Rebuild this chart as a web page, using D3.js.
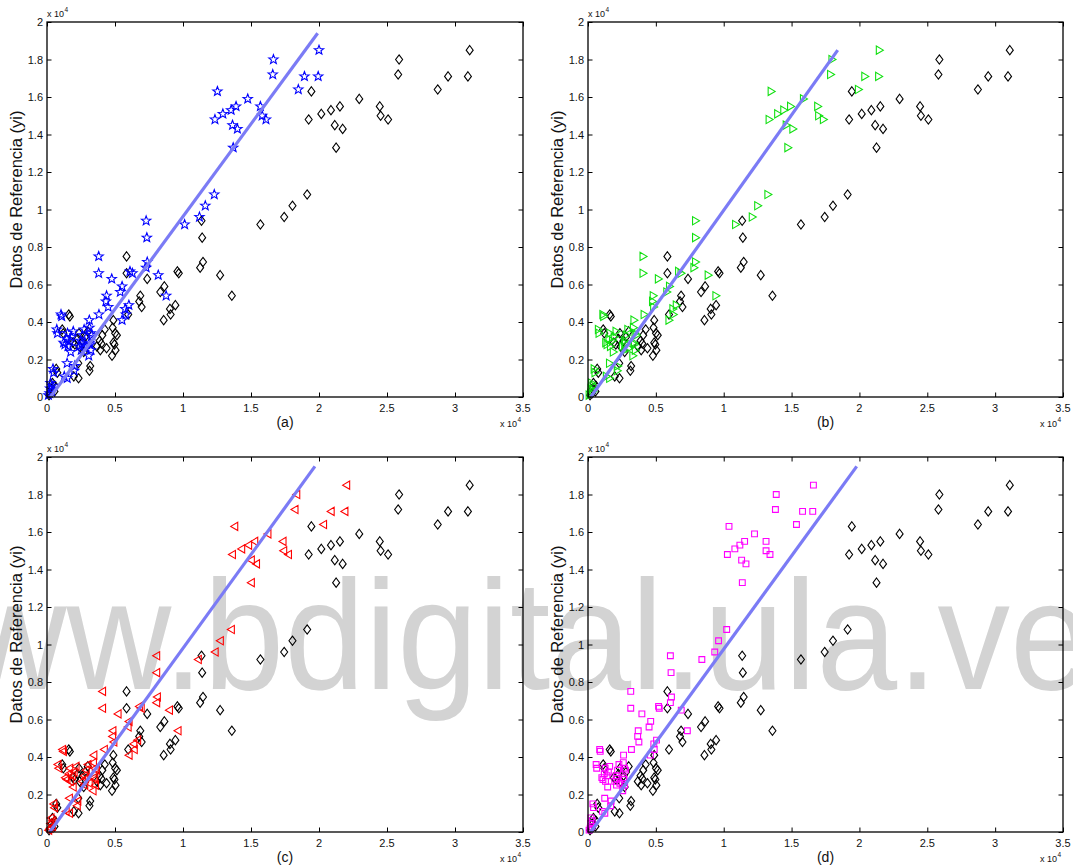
<!DOCTYPE html>
<html>
<head>
<meta charset="utf-8">
<script src="https://cdn.jsdelivr.net/npm/d3@7"></script>
<style>
  html, body { margin: 0; padding: 0; background: #fff; }
  svg { display: block; }
  text { font-family: "Liberation Sans", Arial, Helvetica, sans-serif; fill: #111; }
</style>
</head>
<body>
<svg id="fig" width="1073" height="866"></svg>
<script>
// Reference values (yi), in units of 1e4, shared by every panel.
const refY = [
  1.85, 1.80, 1.72, 1.71, 1.71, 1.64, 1.63, 1.59, 1.55, 1.55,
  1.53, 1.51, 1.50, 1.48, 1.48, 1.45, 1.43, 1.33, 1.08, 1.02,
  0.96, 0.92, 0.94, 0.85, 0.75, 0.72, 0.69, 0.66, 0.67, 0.66,
  0.65, 0.63, 0.54, 0.59, 0.56, 0.54, 0.51, 0.48, 0.49, 0.44,
  0.47, 0.41, 0.44, 0.41, 0.37, 0.34, 0.33, 0.29, 0.28, 0.25,
  0.22, 0.26, 0.36, 0.33, 0.30, 0.285, 0.25, 0.27, 0.44, 0.43,
  0.36, 0.34, 0.29, 0.28, 0.27, 0.30, 0.34, 0.18, 0.10, 0.11,
  0.14, 0.165, 0.15, 0.13, 0.045, 0.03, 0.02, 0.06, 0.01, 0.075,
  0.32, 0.35, 0.31, 0.24
];

// Measured values (black diamonds), units of 1e4.
const xMeasured = [
  3.108, 2.589, 2.582, 2.949, 3.095, 2.873, 1.944, 2.296, 2.447, 2.154,
  2.088, 2.017, 2.453, 2.508, 1.924, 2.116, 2.174, 2.126, 1.913, 1.805,
  1.744, 1.569, 1.136, 1.141, 0.585, 1.147, 1.126, 0.585, 0.959, 0.969,
  1.273, 0.737, 1.359, 0.863, 0.833, 0.686, 0.678, 0.696, 0.944, 0.909,
  0.904, 0.858, 0.597, 0.488, 0.483, 0.501, 0.514, 0.488, 0.496, 0.504,
  0.478, 0.438, 0.425, 0.407, 0.387, 0.400, 0.392, 0.367, 0.160, 0.168,
  0.112, 0.120, 0.190, 0.205, 0.240, 0.262, 0.235, 0.230, 0.232, 0.197,
  0.312, 0.318, 0.068, 0.076, 0.035, 0.055, 0.030, 0.058, 0.015, 0.040,
  0.280, 0.300, 0.225, 0.270
];

// Model estimates for each panel (units of 1e4).
const xModelA = [
  2.000, 1.665, 1.660, 1.893, 1.994, 1.848, 1.253, 1.476, 1.569, 1.390,
  1.354, 1.293, 1.582, 1.610, 1.235, 1.364, 1.400, 1.369, 1.230, 1.164,
  1.121, 1.012, 0.729, 0.734, 0.380, 0.737, 0.729, 0.380, 0.610, 0.628,
  0.818, 0.476, 0.876, 0.552, 0.539, 0.438, 0.433, 0.450, 0.602, 0.580,
  0.575, 0.552, 0.382, 0.311, 0.312, 0.322, 0.330, 0.313, 0.318, 0.323,
  0.307, 0.281, 0.273, 0.261, 0.249, 0.257, 0.252, 0.236, 0.103, 0.108,
  0.072, 0.077, 0.122, 0.132, 0.154, 0.168, 0.151, 0.148, 0.149, 0.127,
  0.200, 0.204, 0.044, 0.049, 0.023, 0.035, 0.019, 0.037, 0.010, 0.026,
  0.180, 0.193, 0.145, 0.174
];
const xModelB = [
  2.148, 1.799, 1.789, 2.041, 2.143, 1.994, 1.351, 1.589, 1.694, 1.494,
  1.444, 1.399, 1.701, 1.736, 1.336, 1.462, 1.511, 1.474, 1.327, 1.252,
  1.212, 1.089, 0.794, 0.794, 0.407, 0.794, 0.782, 0.407, 0.669, 0.687,
  0.887, 0.520, 0.944, 0.602, 0.582, 0.482, 0.477, 0.485, 0.652, 0.630,
  0.627, 0.598, 0.415, 0.340, 0.336, 0.348, 0.357, 0.339, 0.344, 0.350,
  0.332, 0.304, 0.295, 0.283, 0.269, 0.278, 0.272, 0.255, 0.111, 0.117,
  0.078, 0.083, 0.132, 0.142, 0.167, 0.182, 0.163, 0.160, 0.161, 0.137,
  0.217, 0.221, 0.047, 0.053, 0.024, 0.038, 0.021, 0.040, 0.010, 0.028,
  0.195, 0.208, 0.156, 0.188
];
const xModelC = [
  2.202, 1.835, 1.822, 2.088, 2.189, 2.032, 1.379, 1.623, 1.734, 1.526,
  1.481, 1.430, 1.739, 1.774, 1.362, 1.501, 1.539, 1.501, 1.354, 1.273,
  1.235, 1.111, 0.805, 0.805, 0.407, 0.810, 0.805, 0.407, 0.678, 0.691,
  0.899, 0.521, 0.962, 0.602, 0.595, 0.483, 0.481, 0.490, 0.665, 0.640,
  0.637, 0.602, 0.420, 0.343, 0.340, 0.352, 0.362, 0.344, 0.350, 0.355,
  0.337, 0.309, 0.300, 0.287, 0.273, 0.282, 0.276, 0.259, 0.113, 0.119,
  0.079, 0.085, 0.134, 0.145, 0.170, 0.185, 0.166, 0.163, 0.164, 0.139,
  0.221, 0.225, 0.048, 0.054, 0.025, 0.039, 0.021, 0.041, 0.011, 0.028,
  0.198, 0.212, 0.159, 0.191
];
const xModelD = [
  1.661, 1.387, 1.381, 1.581, 1.656, 1.536, 1.039, 1.227, 1.312, 1.154,
  1.119, 1.082, 1.312, 1.341, 1.027, 1.132, 1.164, 1.137, 1.022, 0.962,
  0.934, 0.839, 0.607, 0.612, 0.315, 0.615, 0.607, 0.315, 0.520, 0.525,
  0.687, 0.397, 0.732, 0.462, 0.450, 0.370, 0.366, 0.375, 0.505, 0.488,
  0.485, 0.460, 0.320, 0.262, 0.260, 0.268, 0.276, 0.262, 0.266, 0.270,
  0.256, 0.235, 0.228, 0.218, 0.207, 0.214, 0.210, 0.197, 0.086, 0.090,
  0.060, 0.064, 0.102, 0.110, 0.129, 0.140, 0.126, 0.123, 0.124, 0.106,
  0.167, 0.170, 0.036, 0.041, 0.019, 0.029, 0.016, 0.031, 0.008, 0.021,
  0.150, 0.160, 0.120, 0.145
];

// Fitted line end points per panel: [x0, y0, x1, y1] in units of 1e4.
const fitA = [0.025, 0.0, 1.99, 1.94];
const fitB = [0.020, 0.0, 1.84, 1.85];
const fitC = [0.020, 0.0, 1.97, 1.95];
const fitD = [0.020, 0.0, 1.98, 1.95];

const panelLabels = ["(a)", "(b)", "(c)", "(d)"];
const xTicks = [0, 0.5, 1, 1.5, 2, 2.5, 3, 3.5];
const yTicks = [0, 0.2, 0.4, 0.6, 0.8, 1, 1.2, 1.4, 1.6, 1.8, 2];
const yTitle = "Datos de Referencia (yi)";
const watermark = "www.bdigital.ula.ve";

const svg = d3.select("#fig");

// watermark sits behind all plot content
svg.append("text")
  .attr("transform", "translate(-143,689) scale(0.93,1)")
  .style("font-size", "156px")
  .style("fill", "#d3d3d3")
  .text(watermark);

const panels = [
  { label: panelLabels[0], xs: xModelA, fit: fitA, marker: "star",  color: "#0000ff", left: 47,  top: 22,  w: 476, h: 375 },
  { label: panelLabels[1], xs: xModelB, fit: fitB, marker: "right", color: "#11e011", left: 588, top: 22,  w: 475, h: 375 },
  { label: panelLabels[2], xs: xModelC, fit: fitC, marker: "left",  color: "#ff0000", left: 47,  top: 457, w: 476, h: 375 },
  { label: panelLabels[3], xs: xModelD, fit: fitD, marker: "square",color: "#ff00ff", left: 588, top: 457, w: 475, h: 375 }
];

function starPath(ro, ri) {
  const pts = [];
  for (let i = 0; i < 10; i++) {
    const r = i % 2 === 0 ? ro : ri;
    const a = -Math.PI / 2 + i * Math.PI / 5;
    pts.push([r * Math.cos(a), r * Math.sin(a)]);
  }
  return "M" + pts.map(p => p[0].toFixed(2) + "," + p[1].toFixed(2)).join("L") + "Z";
}
const markerPaths = {
  diamond: "M0,-4.6L3.5,0L0,4.6L-3.5,0Z",
  star: starPath(4.9, 2.05),
  right: "M3.8,0L-3.2,-4.1L-3.2,4.1Z",
  left: "M-3.8,0L3.2,-4.1L3.2,4.1Z",
  square: "M-2.9,-2.9H2.9V2.9H-2.9Z"
};

function label(g, x, y, str, size, anchor) {
  return g.append("text")
    .attr("x", x).attr("y", y)
    .attr("text-anchor", anchor || "start")
    .style("font-size", size + "px")
    .text(str);
}

const fmt = d => d === 0 ? "0" : d3.format("~g")(d);

panels.forEach(p => {
  const g = svg.append("g");
  const x = d3.scaleLinear().domain([0, 3.5]).range([p.left, p.left + p.w]);
  const y = d3.scaleLinear().domain([0, 2]).range([p.top + p.h, p.top]);
  const tick = 4.5;

  // ticks on all four sides, pointing inward
  const axB = g.append("g").attr("transform", `translate(0,${p.top + p.h})`)
    .call(d3.axisBottom(x).tickValues(xTicks).tickSize(-tick).tickFormat(""));
  const axT = g.append("g").attr("transform", `translate(0,${p.top})`)
    .call(d3.axisTop(x).tickValues(xTicks).tickSize(-tick).tickFormat(""));
  const axL = g.append("g").attr("transform", `translate(${p.left},0)`)
    .call(d3.axisLeft(y).tickValues(yTicks).tickSize(-tick).tickFormat(""));
  const axR = g.append("g").attr("transform", `translate(${p.left + p.w},0)`)
    .call(d3.axisRight(y).tickValues(yTicks).tickSize(-tick).tickFormat(""));
  [axB, axT, axL, axR].forEach(a => {
    a.select(".domain").remove();
    a.selectAll("line").attr("stroke", "#000").attr("stroke-width", 1);
  });

  // tick labels
  xTicks.forEach(v => label(g, x(v), p.top + p.h + 15, fmt(v), 11, "middle"));
  yTicks.forEach(v => label(g, p.left - 4, y(v) + 4, fmt(v), 11, "end"));

  // exponent labels
  label(g, p.left, p.top - 5, "x 10", 9, "start");
  label(g, p.left + 17.5, p.top - 10, "4", 6.5, "start");
  const e2x = p.left + p.w - 23;
  label(g, e2x, p.top + p.h + 30, "x 10", 9, "start");
  label(g, e2x + 17.5, p.top + p.h + 25, "4", 6.5, "start");

  // panel caption
  label(g, x(1.75), p.top + p.h + 30, p.label, 14, "middle");

  // y title
  g.append("text")
    .attr("transform", `translate(${p.left - 25},${p.top + p.h / 2 - 10}) rotate(-90)`)
    .attr("text-anchor", "middle")
    .style("font-size", "16.5px")
    .text(yTitle);

  // measured points
  g.append("g").selectAll("path").data(refY).join("path")
    .attr("d", markerPaths.diamond)
    .attr("transform", (d, i) => `translate(${x(xMeasured[i])},${y(d)})`)
    .attr("fill", "none").attr("stroke", "#000").attr("stroke-width", 1.1);

  // model points
  g.append("g").selectAll("path").data(refY).join("path")
    .attr("d", markerPaths[p.marker])
    .attr("transform", (d, i) => `translate(${x(p.xs[i])},${y(d)})`)
    .attr("fill", "none").attr("stroke", p.color).attr("stroke-width", 1.1);

  // fitted line
  g.append("line")
    .attr("x1", x(p.fit[0])).attr("y1", y(p.fit[1]))
    .attr("x2", x(p.fit[2])).attr("y2", y(p.fit[3]))
    .attr("stroke", "#7b7bf5").attr("stroke-width", 3.2).attr("stroke-linecap", "butt");

  // frame
  g.append("rect")
    .attr("x", p.left).attr("y", p.top).attr("width", p.w).attr("height", p.h)
    .attr("fill", "none").attr("stroke", "#000").attr("stroke-width", 1.3);
});
</script>
</body>
</html>
